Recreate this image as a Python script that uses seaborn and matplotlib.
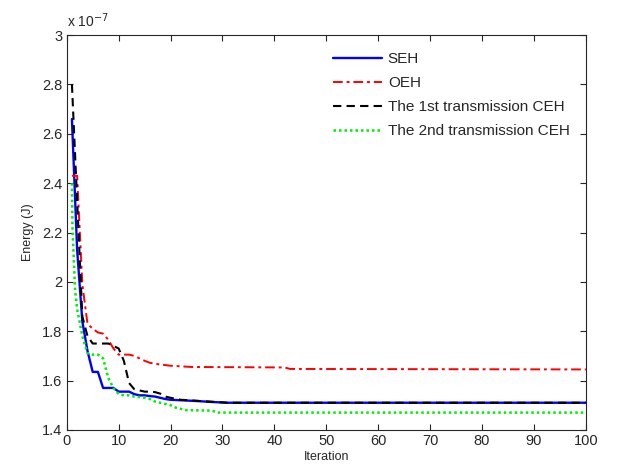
import pandas as pd
import matplotlib
matplotlib.use('Agg')
import matplotlib.pyplot as plt
import seaborn as sns

# values, energy in units of 1e-7 J
seh_iter = [1, 2, 3, 4, 5, 6, 7, 8, 9, 10, 11, 12, 13, 14, 15, 16, 17, 18, 19, 20, 22, 25, 28, 31, 100]
seh_energy = [2.66, 2.13, 1.84, 1.72, 1.635, 1.635, 1.57, 1.57, 1.57, 1.555, 1.555, 1.555, 1.545,
              1.54, 1.54, 1.537, 1.535, 1.53, 1.525, 1.522, 1.52, 1.517, 1.513, 1.51, 1.51]

oeh_iter = [1, 2, 3, 4, 5, 6, 7, 8, 9, 10, 11, 12, 13, 14, 15, 16, 17, 18, 20, 24, 42, 43, 100]
oeh_energy = [2.43, 2.43, 1.99, 1.83, 1.81, 1.795, 1.79, 1.765, 1.73, 1.705, 1.705, 1.705, 1.70,
              1.69, 1.68, 1.672, 1.668, 1.665, 1.66, 1.655, 1.653, 1.647, 1.645]

ceh1_iter = [1, 2, 3, 4, 5, 6, 7, 8, 9, 10, 11, 12, 13, 14, 15, 16, 17, 18, 19, 20, 22, 25, 28, 31, 100]
ceh1_energy = [2.80, 2.33, 1.86, 1.78, 1.75, 1.75, 1.75, 1.75, 1.74, 1.73, 1.68, 1.59, 1.565,
               1.56, 1.555, 1.555, 1.553, 1.547, 1.535, 1.53, 1.522, 1.518, 1.514, 1.51, 1.51]

ceh2_iter = [1, 1.1, 1.6, 2, 3, 4, 5, 6, 7, 8, 9, 10, 11, 12, 13, 14, 15, 16, 17, 18, 19, 20,
             21, 22, 23, 28, 29, 100]
ceh2_energy = [2.40, 2.22, 1.97, 1.89, 1.78, 1.71, 1.705, 1.705, 1.69, 1.61, 1.57, 1.545, 1.54,
               1.54, 1.535, 1.533, 1.53, 1.525, 1.515, 1.51, 1.505, 1.50, 1.49, 1.485, 1.48,
               1.478, 1.47, 1.47]

labels = ['SEH', 'OEH', 'The 1st transmission CEH', 'The 2nd transmission CEH']
x_ticks = list(range(0, 101, 10))
y_ticks = [1.4, 1.6, 1.8, 2.0, 2.2, 2.4, 2.6, 2.8, 3.0]
y_tick_labels = ['1.4', '1.6', '1.8', '2', '2.2', '2.4', '2.6', '2.8', '3']

series = [
    (seh_iter, seh_energy, '#0000ff', '-', 1.7),
    (oeh_iter, oeh_energy, '#ff0000', (0, (5, 2, 1.5, 2)), 1.4),
    (ceh1_iter, ceh1_energy, '#000000', (0, (4, 2.5)), 1.5),
    (ceh2_iter, ceh2_energy, '#00ee00', (0, (1, 1.2)), 1.8),
]

sns.set_style('ticks')
plt.rcParams['font.family'] = ['Liberation Sans', 'DejaVu Sans']
plt.rcParams['xtick.direction'] = 'in'
plt.rcParams['ytick.direction'] = 'in'

fig, ax = plt.subplots(figsize=(6.18, 4.75), dpi=100)
fig.subplots_adjust(left=0.108, right=0.948, top=0.926, bottom=0.095)

for (xs, ys, color, ls, lw), label in zip(series, labels):
    df = pd.DataFrame({'Iteration': xs, 'Energy': ys})
    sns.lineplot(data=df, x='Iteration', y='Energy', color=color, linestyle=ls, lw=lw,
                 label=label, errorbar=None, ax=ax)

ax.set_xlim(0, 100)
ax.set_ylim(1.4, 3.0)
ax.set_xticks(x_ticks)
ax.set_yticks(y_ticks)
ax.set_yticklabels(y_tick_labels)
ax.tick_params(top=True, right=True, length=4, width=0.8, labelsize=10.5, pad=3)
for s in ax.spines.values():
    s.set_linewidth(0.8)
    s.set_visible(True)

ax.set_xlabel('Iteration', fontsize=9, labelpad=2)
ax.set_ylabel('Energy (J)', fontsize=9, labelpad=6)
ax.text(0.0, 1.012, r'x 10$^{-7}$', transform=ax.transAxes, fontsize=10, ha='left', va='bottom')

ax.legend(loc='upper left', frameon=False, fontsize=11, handlelength=3.2,
          handletextpad=0.4, labelspacing=0.65, borderpad=0, borderaxespad=0,
          bbox_to_anchor=(0.5125, 0.957))

fig.savefig('out.png', dpi=100)
